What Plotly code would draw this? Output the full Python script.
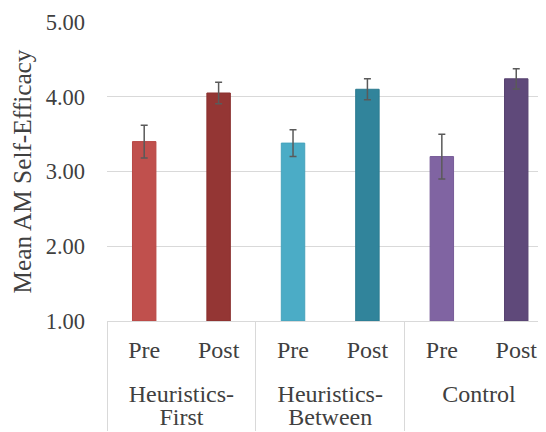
import plotly.graph_objects as go

group_names = ["Heuristics-<br>First", "Heuristics-<br>Between", "Control"]
phase_names = ["Pre", "Post"]
groups = [g for g in group_names for _ in phase_names]
phases = [p for _ in group_names for p in phase_names]
means = [3.40, 4.05, 3.38, 4.10, 3.20, 4.24]
errors = [0.22, 0.145, 0.18, 0.14, 0.30, 0.135]
colors = ["#c0504d", "#943634", "#4bacc6", "#31849b", "#8064a2", "#5f497a"]
line_colors = ["#b84744", "#8a302e", "#46a3bc", "#2d7b90", "#775c98", "#574270"]
y_ticks = [1, 2, 3, 4, 5]
y_title = "Mean AM Self-Efficacy"

font_family = "Liberation Serif, Times New Roman, serif"
text_color = "#404040"
big = '<span style="font-size:24px">{}</span>'
pad = '<span style="font-size:30px">\u00a0</span>'


def wrap_group(label):
    return " <br>" + "<br>".join(big.format(part) for part in label.split("<br>"))


def wrap_phase(label):
    return pad + big.format(label) + pad


fig = go.Figure()
fig.add_trace(go.Bar(
    x=[[wrap_group(g) for g in groups], [wrap_phase(p) for p in phases]],
    y=[m - 1 for m in means],
    base=1,
    width=0.315,
    marker=dict(color=colors, line=dict(color=line_colors, width=1)),
    error_y=dict(type="data", array=errors, color="#5a5a5a", thickness=1.5, width=3.5),
    hoverinfo="skip",
))

fig.update_layout(
    width=538, height=424,
    margin=dict(l=99, r=0, t=14, b=111),
    paper_bgcolor="white", plot_bgcolor="white",
    font=dict(family=font_family, size=22, color=text_color),
    showlegend=False,
    xaxis=dict(
        type="multicategory",
        range=[-0.5, 5.4],
        showline=True, linecolor="#d9d9d9", linewidth=1,
        showgrid=False, ticks="",
        showdividers=True, dividercolor="#d9d9d9", dividerwidth=1,
        tickfont=dict(family=font_family, size=18, color=text_color),
        ticklabelstandoff=14,
        automargin=False,
    ),
    yaxis=dict(
        range=[1, 5],
        tickvals=y_ticks,
        tickformat=".2f",
        showgrid=True, gridcolor="#d9d9d9", gridwidth=1,
        zeroline=False, showline=False, ticks="",
        ticklabelstandoff=21,
        tickfont=dict(family=font_family, size=22.5, color=text_color),
        title=dict(text=y_title + "\u00a0\u00a0",
                   font=dict(family=font_family, size=25.3, color=text_color), standoff=8),
        automargin=False,
    ),
)

fig.write_html("out.html")
